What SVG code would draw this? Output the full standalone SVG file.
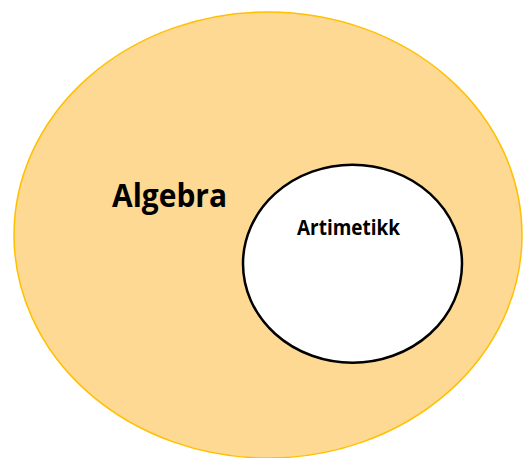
<svg xmlns="http://www.w3.org/2000/svg" width="523" height="458" viewBox="0 0 523 458">
<style>
.lbl{font-family:"Open Sans","Noto Sans","Liberation Sans",sans-serif;font-weight:bold;fill:#000}
</style>
<rect width="523" height="458" fill="#fff"/>
<g id="algebra">
<ellipse cx="268" cy="235" rx="254" ry="223" fill="#FED994" stroke="#FFC000" stroke-width="1.5"/>
<text class="lbl" x="112" y="206.5" font-size="33" textLength="115" lengthAdjust="spacingAndGlyphs">Algebra</text>
</g>
<g id="artimetikk">
<ellipse cx="352.5" cy="263.7" rx="109.5" ry="99" fill="#fff" stroke="#000" stroke-width="2.5"/>
<text class="lbl" x="297" y="235" font-size="21" textLength="103" lengthAdjust="spacingAndGlyphs">Artimetikk</text>
</g>
<g id="connectors"/>
</svg>
